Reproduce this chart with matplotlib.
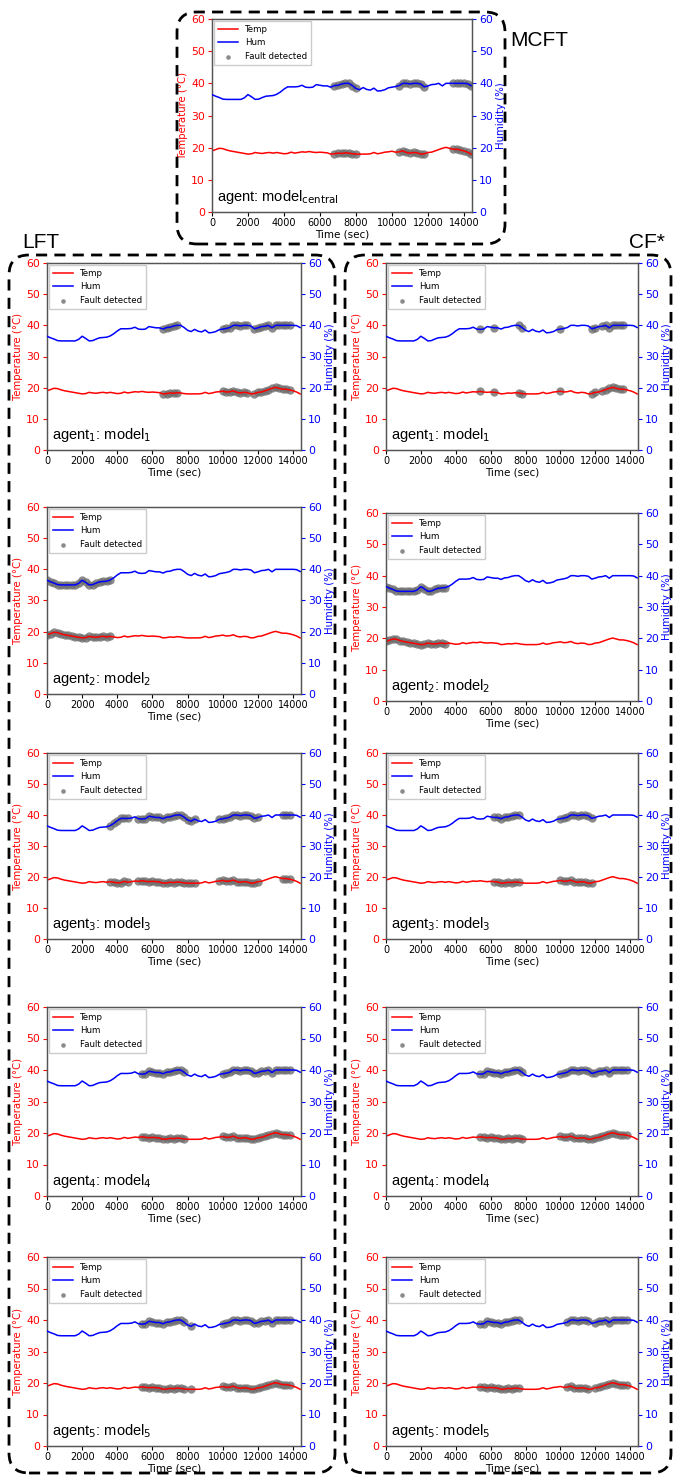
import numpy as np
import matplotlib
matplotlib.use("Agg")
import matplotlib.pyplot as plt
import matplotlib.patches as mpatches

# time grid (sec) and the shared sensor readings
time_s = [0, 200, 400, 600, 800, 1000, 1200, 1400, 1600, 1800,
          2000, 2200, 2400, 2600, 2800, 3000, 3200, 3400, 3600, 3800,
          4000, 4200, 4400, 4600, 4800, 5000, 5200, 5400, 5600, 5800,
          6000, 6200, 6400, 6600, 6800, 7000, 7200, 7400, 7600, 7800,
          8000, 8200, 8400, 8600, 8800, 9000, 9200, 9400, 9600, 9800,
          10000, 10200, 10400, 10600, 10800, 11000, 11200, 11400, 11600, 11800,
          12000, 12200, 12400, 12600, 12800, 13000, 13200, 13400, 13600, 13800,
          14000, 14200, 14400]

temp = [19.0, 19.4, 19.8, 19.7, 19.3, 19.0, 18.8, 18.6, 18.4, 18.2,
        18.0, 18.1, 18.5, 18.3, 18.2, 18.4, 18.5, 18.3, 18.5, 18.3,
        18.1, 18.2, 18.6, 18.3, 18.5, 18.7, 18.6, 18.8, 18.6, 18.5,
        18.6, 18.5, 18.4, 18.0, 18.1, 18.3, 18.2, 18.4, 18.3, 18.1,
        18.0, 18.0, 18.0, 18.0, 18.1, 18.5, 18.1, 18.3, 18.6, 18.7,
        18.9, 18.6, 18.7, 19.0, 18.5, 18.3, 18.5, 18.4, 18.0, 18.1,
        18.5, 18.6, 19.0, 19.4, 19.8, 20.1, 19.8, 19.5, 19.5, 19.3,
        19.0, 18.6, 18.0]

hum = [36.5, 36.0, 35.6, 35.1, 35.0, 35.0, 35.0, 35.0, 35.0, 35.5,
       36.5, 35.8, 35.0, 35.1, 35.6, 36.0, 36.1, 36.2, 36.6, 37.3,
       38.2, 38.9, 38.9, 38.9, 39.0, 39.4, 38.8, 38.7, 38.8, 39.6,
       39.4, 39.2, 39.2, 38.8, 39.3, 39.4, 39.8, 40.0, 40.0, 39.3,
       38.4, 38.0, 38.7, 38.1, 37.9, 38.5, 37.6, 37.7, 38.0, 38.6,
       38.8, 39.0, 39.3, 40.0, 40.0, 39.8, 40.0, 40.0, 39.8, 38.9,
       39.2, 39.6, 39.7, 40.0, 39.2, 40.0, 40.0, 40.0, 40.0, 40.0,
       40.0, 39.9, 39.3]

# fault detection windows (start, end) in sec, per panel
faults_central = [(6800, 8000), (10400, 11800), (13400, 14400)]
faults_lft = [
    [(6600, 7400), (10000, 11400), (11800, 13800)],
    [(0, 3600)],
    [(3600, 4600), (5200, 8400), (9800, 12000), (13400, 13800)],
    [(5400, 7800), (10000, 13800)],
    [(5400, 7800), (8200, 8200), (10000, 13800)],
]
faults_cf = [
    [(5400, 5400), (6200, 6200), (7600, 7800), (10000, 10000),
     (11800, 12000), (12400, 12600), (12800, 13600)],
    [(0, 3400)],
    [(6200, 7600), (10000, 11800)],
    [(5400, 7800), (10000, 13800)],
    [(5400, 7600), (10400, 11600), (12000, 13800)],
]

W, H = 673, 1478
fig = plt.figure(figsize=(W / 100, H / 100), dpi=100)

t = np.array(time_s)
temp = np.array(temp)
hum = np.array(hum)


def px_axes(x0, x1, y0, y1):
    return fig.add_axes([x0 / W, (H - y1) / H, (x1 - x0) / W, (y1 - y0) / H])


def panel(ax, faults, label):
    mask = np.zeros(len(t), dtype=bool)
    for a, b in faults:
        mask |= (t >= a) & (t <= b)
    ax2 = ax.twinx()
    l1, = ax.plot(t, temp, color='red', lw=1.1, zorder=3, label='Temp')
    sc = ax.scatter(t[mask], temp[mask], s=36, color='#6e6e6e', alpha=0.8,
                    lw=0, zorder=2, label='Fault detected')
    l2, = ax2.plot(t, hum, color='blue', lw=1.1, zorder=3, label='Hum')
    ax2.scatter(t[mask], hum[mask], s=36, color='#6e6e6e', alpha=0.8, lw=0, zorder=2)
    for a in (ax, ax2):
        a.set_ylim(0, 60)
        a.set_xlim(0, 14450)
        for s in a.spines.values():
            s.set_color('#555555')
            s.set_linewidth(0.9)
    ax.set_xticks(range(0, 14001, 2000))
    ax.set_yticks(range(0, 61, 10))
    ax2.set_yticks(range(0, 61, 10))
    ax.tick_params(axis='y', colors='red', labelsize=7.8, length=3, pad=2)
    ax.tick_params(axis='x', labelsize=7, length=3, pad=1.5)
    ax2.tick_params(axis='y', colors='blue', labelsize=7.8, length=3, pad=2)
    ax.set_ylabel('Temperature (°C)', color='red', fontsize=7.3, labelpad=2)
    ax2.set_ylabel('Humidity (%)', color='blue', fontsize=7.3, labelpad=2)
    ax.set_xlabel('Time (sec)', fontsize=7.5, labelpad=1)
    ax2.legend([l1, l2, sc], ['Temp', 'Hum', 'Fault detected'], loc='upper left',
               fontsize=6.2, markerscale=0.55, borderaxespad=0.25,
               handlelength=2.4, labelspacing=0.55, fancybox=False, framealpha=1,
               edgecolor='#cccccc')
    ax.text(0.02, 0.03, label, transform=ax.transAxes, fontsize=10.5,
            family='Liberation Sans', ha='left', va='bottom')


# top panel
ax = px_axes(212, 472, 19, 212)
panel(ax, faults_central, r'agent: model$_{\mathrm{central}}$')

rows_lft = [(263, 450), (507, 694), (753, 939), (1007, 1196), (1257, 1446)]
rows_cf = [(263, 450), (513, 701), (753, 939), (1007, 1196), (1257, 1446)]
for i in range(5):
    k = i + 1
    lab = r'agent$_%d$: model$_%d$' % (k, k)
    ax = px_axes(47, 301, rows_lft[i][0], rows_lft[i][1])
    panel(ax, faults_lft[i], lab)
    ax = px_axes(386, 638, rows_cf[i][0], rows_cf[i][1])
    panel(ax, faults_cf[i], lab)

# dashed rounded group boxes (in inches)
def box(x0, y0, x1, y1):
    p = mpatches.FancyBboxPatch((x0 / 100, (H - y1) / 100), (x1 - x0) / 100,
                                (y1 - y0) / 100,
                                boxstyle='round,pad=0,rounding_size=0.2',
                                transform=fig.dpi_scale_trans, fill=False,
                                lw=2.0, ls=(0, (4, 2.6)), ec='black')
    fig.patches.append(p)

box(177, 12, 505, 244)
box(9, 255, 335, 1473)
box(345, 255, 671, 1473)

fig.text(510 / W, 1 - 40 / H, 'MCFT', fontsize=15, family='Liberation Sans',
         ha='left', va='center')
fig.text(22 / W, 1 - 243 / H, 'LFT', fontsize=15, family='Liberation Sans',
         ha='left', va='center')
fig.text(665 / W, 1 - 243 / H, 'CF*', fontsize=15, family='Liberation Sans',
         ha='right', va='center')

fig.savefig('out.png', dpi=100)
